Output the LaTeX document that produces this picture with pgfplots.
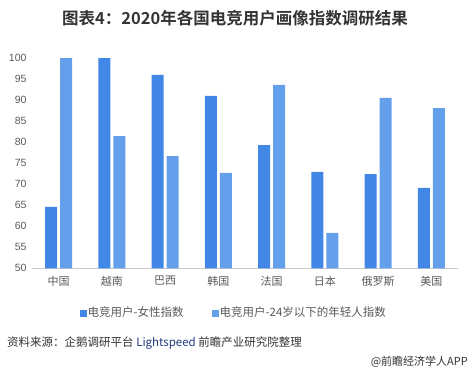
\documentclass[border=0pt]{standalone}
\usepackage{pgfplots}
\pgfplotsset{compat=1.18}
\usepackage{fontspec}
\setmainfont{Liberation Sans}
\newfontfamily\cjk{Noto Sans CJK SC}[BoldFont={Noto Sans CJK SC Bold}]
\definecolor{darkb}{HTML}{4187E5}
\definecolor{lightb}{HTML}{649FEB}
\definecolor{tick}{HTML}{595959}
\definecolor{txt}{HTML}{333333}
\definecolor{navy}{HTML}{1F3A80}
\begin{document}
\begin{tikzpicture}[x=1pt,y=1pt]
\path[use as bounding box] (-32,-106.7) rectangle (437,268.3);
\begin{axis}[
  at={(0,0)}, anchor=south west,
  scale only axis,
  width=426pt, height=210.3pt,
  xmin=-0.5, xmax=7.5,
  ymin=50, ymax=100,
  ytick=\empty,
  xtick={0,...,7},
  xticklabels={中国,越南,巴西,韩国,法国,日本,俄罗斯,美国},
  xticklabel style={font=\cjk\fontsize{11}{12}\selectfont, text=tick, yshift=-4pt},
  axis x line*=bottom, axis y line=none,
  x axis line style={draw=black!20, line width=0.8pt},
  major tick length=0pt,
  ybar, bar width=12pt,
  clip=false,
]
\addplot[fill=darkb, draw=none, bar shift=-7.5pt] coordinates {(0,64.6) (1,100) (2,96) (3,91) (4,79.3) (5,72.9) (6,72.4) (7,69.1)};
\addplot[fill=lightb, draw=none, bar shift=7.5pt] coordinates {(0,100) (1,81.4) (2,76.7) (3,72.7) (4,93.6) (5,58.4) (6,90.5) (7,88.1)};
\end{axis}
\foreach \v in {50,55,...,100} {
  \node[anchor=east, font=\fontsize{10.5}{12}\selectfont, text=tick] at (-2,{(\v-50)*4.206}) {\v};
}
% title
\node[font=\cjk\bfseries\fontsize{16.5}{18}\selectfont, text=txt] at (203,250.3) {图表4：2020年各国电竞用户画像指数调研结果};
% legend
\fill[darkb] (48,-48.3) rectangle (55,-41.3);
\node[anchor=west, font=\cjk\fontsize{11.5}{13}\selectfont, text=tick, inner sep=0pt] at (55.5,-44.3) {电竞用户-女性指数};
\fill[lightb] (180,-48.3) rectangle (187,-41.3);
\node[anchor=west, font=\cjk\fontsize{11.5}{13}\selectfont, text=tick, inner sep=0pt] at (187.5,-44.3) {电竞用户-24岁以下的年轻人指数};
% source
\node[anchor=west, font=\cjk\fontsize{11.5}{13}\selectfont, text=txt, inner sep=0pt] at (-25,-74.3) {资料来源：企鹅调研平台 {\color{navy}Lightspeed} 前瞻产业研究院整理};
\node[anchor=east, font=\cjk\fontsize{11}{13}\selectfont, text=txt, inner sep=0pt] at (436,-93.7) {@前瞻经济学人APP};
\end{tikzpicture}
\end{document}
